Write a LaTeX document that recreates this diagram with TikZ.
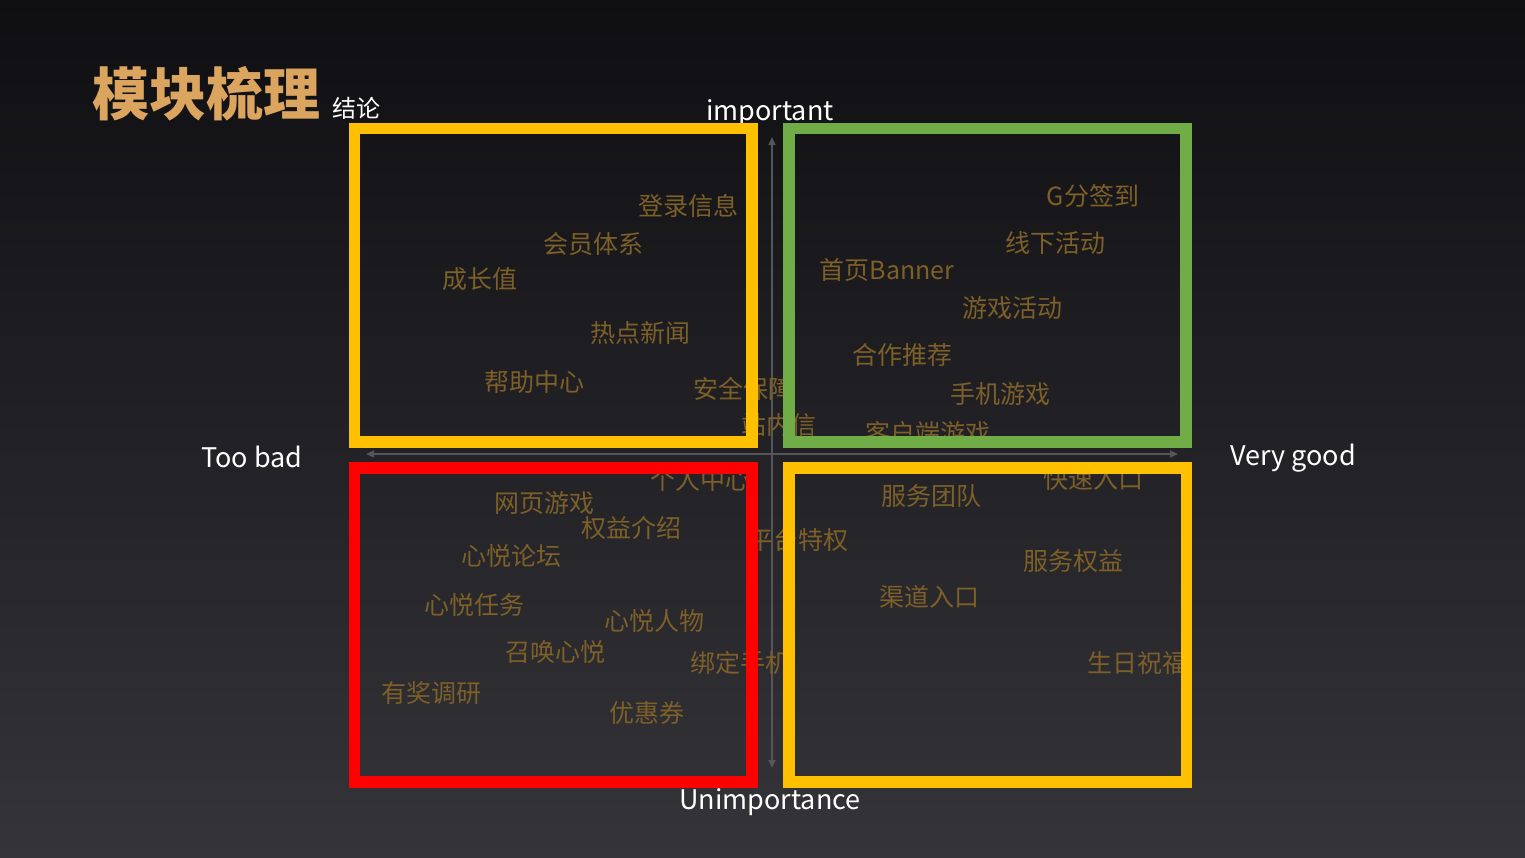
\documentclass[tikz,border=0pt]{standalone}
\usepackage{fontspec}
\newfontfamily\cjk{Noto Sans CJK SC}
\usepackage{tikz}
\usetikzlibrary{arrows.meta, positioning, calc}
\definecolor{bgTop}{RGB}{15,15,18}
\definecolor{bgBottom}{RGB}{52,52,57}
\definecolor{titleTan}{RGB}{220,165,95}
\definecolor{itemBrown}{RGB}{125,95,40}
\definecolor{axisGray}{RGB}{85,85,90}
\definecolor{boxYellow}{RGB}{255,192,0}
\definecolor{boxGreen}{RGB}{112,173,71}
\definecolor{boxRed}{RGB}{255,0,0}
\tikzset{
  item/.style={text=itemBrown,font=\cjk\fontsize{25}{28}\selectfont,inner sep=0pt},
  axislabel/.style={text=white,font=\cjk\fontsize{27}{30}\selectfont,inner sep=0pt},
  quad/.style={line width=11.5pt},
  axisarr/.style={{Triangle[length=8pt,width=7pt]}-{Triangle[length=8pt,width=7pt]},line width=1.4pt,color=axisGray}
}
\begin{document}
\begin{tikzpicture}[x=1pt,y=-1pt]
  % background
  \shade[top color=bgTop,bottom color=bgBottom] (0,0) rectangle (1525,857);
  \useasboundingbox (0,0) rectangle (1525,857);

  % title
  \node[anchor=base west,inner sep=0pt,text=titleTan,font=\cjk\bfseries\fontsize{57}{62}\selectfont] (title) at (92,115) {模块梳理};
  \node[inner sep=0pt,text=white,font=\cjk\fontsize{24}{27}\selectfont,anchor=base west] (concl) at (332,117) {结论};

  % axes
  \coordinate (ytop) at (772,137);
  \coordinate (ybot) at (772,768);
  \coordinate (xl) at (366,454);
  \coordinate (xr) at (1178,454);
  \draw[axisarr] (ybot) -- (ytop);
  \draw[axisarr] (xl) -- (xr);

  \node[axislabel] (imp) at (770,113) {important};
  \node[axislabel] (unimp) at (770,802) {Unimportance};
  \node[axislabel] (bad) at (252,457) {Too bad};
  \node[axislabel] (good) at (1293,458) {Very good};

  % items, top left
  \node[item] (login) at (688,206) {登录信息};
  \node[item] (member) at (593,244) {会员体系};
  \node[item] (growth) at (480,279) {成长值};
  \node[item] (news) at (640,333) {热点新闻};
  \node[item] (help) at (534,382) {帮助中心};
  \node[item] (safe) at (743,389) {安全保障};
  \node[item] (mail) at (779,425) {站内信};
  % top right
  \node[item] (sign) at (1093,196) {G分签到};
  \node[item] (offline) at (1055,243) {线下活动};
  \node[item] (banner) at (887,270) {首页Banner};
  \node[item] (gameact) at (1012,308) {游戏活动};
  \node[item] (partner) at (902,355) {合作推荐};
  \node[item] (mobile) at (1000,394) {手机游戏};
  \node[item] (client) at (928,433) {客户端游戏};
  % bottom left
  \node[item] (personal) at (700,480) {个人中心};
  \node[item] (web) at (544,503) {网页游戏};
  \node[item] (rights) at (631,528) {权益介绍};
  \node[item] (forum) at (511,556) {心悦论坛};
  \node[item] (task) at (474,605) {心悦任务};
  \node[item] (people) at (654,621) {心悦人物};
  \node[item] (summon) at (555,652) {召唤心悦};
  \node[item] (bind) at (740,663) {绑定手机};
  \node[item] (survey) at (431,693) {有奖调研};
  \node[item] (coupon) at (647,713) {优惠券};
  % bottom right
  \node[item] (quick) at (1093,479) {快速入口};
  \node[item] (team) at (931,496) {服务团队};
  \node[item] (platform) at (798,540) {平台特权};
  \node[item] (service) at (1073,561) {服务权益};
  \node[item] (channel) at (929,597) {渠道入口};
  \node[item] (birthday) at (1137,663) {生日祝福};

  % quadrant frames
  \draw[quad,boxYellow] (354.5,128.5) rectangle (752,442);
  \draw[quad,boxGreen] (789,128.5) rectangle (1186,442);
  \draw[quad,boxRed] (354.5,468) rectangle (752,782);
  \draw[quad,boxYellow] (789,468) rectangle (1186.5,782);
\end{tikzpicture}
\end{document}
